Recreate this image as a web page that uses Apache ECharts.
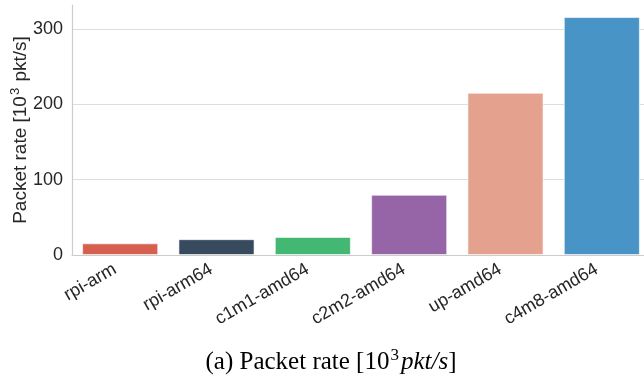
<!DOCTYPE html>
<html><head><meta charset="utf-8">
<script src="https://cdn.jsdelivr.net/npm/echarts@6/dist/echarts.min.js"></script>
<style>html,body{margin:0;padding:0;background:#fff}#c{width:644px;height:378px}</style>
</head><body><div id="c"></div>
<script>
const categories = ['rpi-arm','rpi-arm64','c1m1-amd64','c2m2-amd64','up-amd64','c4m8-amd64'];
const packetRate = [15.5, 21, 24, 80, 215.5, 316];
const barColors = ['#d65f50','#384a5e','#43b873','#9665a8','#e4a18d','#4894c7'];
const yTicks = [0, 100, 200, 300];

const chart = echarts.init(document.getElementById('c'), null, {renderer:'canvas'});
chart.setOption({
  animation:false,
  backgroundColor:'#ffffff',
  grid:{left:72, top:5, width:578, height:250, containLabel:false, outerBoundsMode:'none'},
  title:{
    text:'{n|(a) Packet rate [10}{s|3}{i|pkt/s}{n|]}',
    left:326, top:342, textAlign:'center',
    textStyle:{rich:{
      n:{fontFamily:'Liberation Serif', fontSize:25, fontWeight:'normal', color:'#000', lineHeight:30},
      s:{fontFamily:'Liberation Serif', fontSize:17, fontWeight:'normal', color:'#000', lineHeight:14, verticalAlign:'top', padding:[0,2,0,1]},
      i:{fontFamily:'Liberation Serif', fontSize:25, fontStyle:'italic', fontWeight:'normal', color:'#000', lineHeight:30}
    }}
  },
  xAxis:{
    type:'category', data:categories,
    axisLine:{show:true, lineStyle:{color:'#cccccc', width:1.2}},
    axisTick:{show:false},
    axisLabel:{rotate:30, margin:10, padding:[0,6,0,0], fontFamily:'Liberation Sans', fontSize:18, color:'#262626'}
  },
  yAxis:{
    type:'value', min:0, max:332, interval:100,
    name:'{n|Packet rate [10}{s|3}{n| pkt/s]}', nameLocation:'middle', nameGap:39, nameMoveOverlap:false,
    nameTextStyle:{rich:{
      n:{fontFamily:'Liberation Sans', fontSize:19, color:'#262626', lineHeight:24},
      s:{fontFamily:'Liberation Sans', fontSize:13, color:'#262626', lineHeight:12, verticalAlign:'top', padding:[0,1,0,1]}
    }},
    axisLine:{show:true, lineStyle:{color:'#cccccc', width:1.2}},
    axisTick:{show:false},
    axisLabel:{margin:9, fontFamily:'Liberation Sans', fontSize:18, color:'#262626',
      showMaxLabel:false,
      formatter:v=> yTicks.includes(v) ? String(v) : ''},
    splitLine:{show:true, showMaxLine:false, lineStyle:{color:'#dddddd', width:1.2}}
  },
  series:[{
    type:'bar', barCategoryGap:'21%',
    data: packetRate.map((v,i)=>({value:v, itemStyle:{color:barColors[i]}})),
    itemStyle:{borderColor:'rgba(255,255,255,0.6)', borderWidth:1}
  }]
});
</script></body></html>
